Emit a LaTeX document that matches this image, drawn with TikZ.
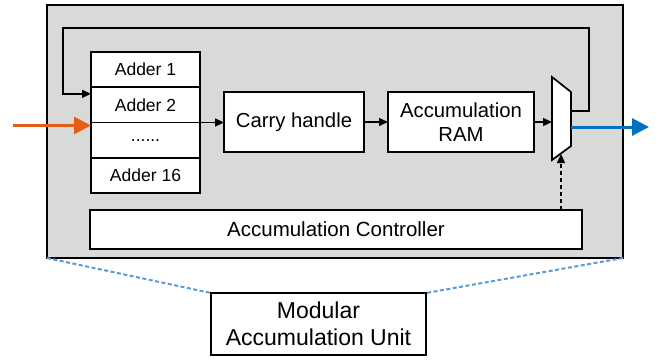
\documentclass[tikz,border=0pt]{standalone}
\usepackage{fontspec}
\setmainfont{Liberation Sans}
\usetikzlibrary{arrows.meta, positioning, calc}
\definecolor{inorange}{RGB}{228,94,22}
\definecolor{outblue}{RGB}{0,112,192}
\definecolor{zoomblue}{RGB}{91,155,213}

\begin{document}
\begin{tikzpicture}[x=1pt, y=-1pt,
    blk/.style={draw, line width=1.7pt, fill=white, inner sep=0pt, outer sep=0pt, align=center},
    adder/.style={blk, minimum width=109pt, minimum height=35.25pt, font=\fontsize{17.5}{20}\selectfont},
    sig/.style={-{Triangle[length=9pt, width=8pt]}, line width=1.3pt},
    wide/.style={-{Triangle[length=17pt, width=17pt]}, line width=3pt}]
    \useasboundingbox (0, 0) rectangle (660, 361);

    % Unit frame
    \node[draw, line width=1.7pt, fill=black!15, outer sep=0pt, minimum width=576pt, minimum height=253pt] (unit) at (335, 131.5) {};

    % Adders
    \node[adder] (adder1) at (145.5, 69.6) {Adder 1};
    \node[adder, below=0pt of adder1] (adder2) {Adder 2};
    \node[adder, below=0pt of adder2] (dots) {......};
    \node[adder, below=0pt of dots] (adder16) {Adder 16};

    % Carry and RAM
    \node[blk, minimum width=140pt, minimum height=60pt, font=\fontsize{20.3}{24}\selectfont] (carry) at (294, 122) {Carry handle};
    \node[blk, minimum width=146pt, minimum height=60pt, font=\fontsize{20.3}{24}\selectfont] (ram) at (461, 122) {Accumulation\\RAM};

    % Mux
    \draw[line width=1.7pt, fill=white] (552, 77) -- (571, 92) -- (571, 146) -- (552, 160) -- cycle;
    \coordinate (muxin) at (552, 122);
    \coordinate (muxfb) at (571, 111);
    \coordinate (muxout) at (571, 127);
    \coordinate (muxsel) at (561, 154);

    % Controller
    \node[blk, minimum width=492pt, minimum height=39pt, font=\fontsize{20.5}{24}\selectfont] (ctrl) at (336, 229.5) {Accumulation Controller};

    % Links
    \draw[sig] (adder2.south east) -- (carry.west |- adder2.south east);
    \draw[sig] (carry) -- (ram);
    \draw[sig] (ram) -- (muxin);
    \draw[sig] (muxfb) -- (589, 111) |- (63, 28) |- ([yshift=11pt]adder2.west);
    \draw[sig, dash pattern=on 4pt off 3pt] (ctrl.north -| muxsel) -- (muxsel);

    % In and out
    \coordinate (src) at (13, 125.5);
    \coordinate (dst) at (649, 127);
    \draw[wide, inorange] (src) -- (src -| dots.west);
    \draw[wide, outblue] (muxout) -- (dst);

    % Zoom box
    \node[blk, minimum width=215pt, minimum height=62pt, font=\fontsize{23}{27}\selectfont] (mau) at (318.5, 324) {Modular\\Accumulation Unit};
    \draw[zoomblue, line width=2pt, dash pattern=on 4pt off 2.5pt] (unit.south west) -- (mau.north west);
    \draw[zoomblue, line width=2pt, dash pattern=on 4pt off 2.5pt] (unit.south east) -- (mau.north east);
\end{tikzpicture}
\end{document}
